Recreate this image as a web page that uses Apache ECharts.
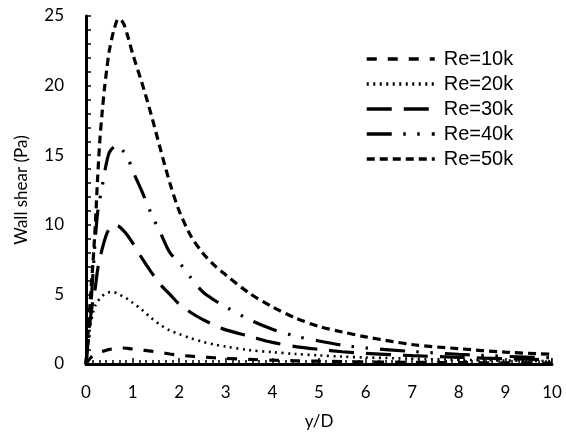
<!DOCTYPE html>
<html>
<head>
<meta charset="utf-8">
<script src="https://cdn.jsdelivr.net/npm/echarts@6/dist/echarts.min.js"></script>
<style>html,body{margin:0;padding:0;background:#fff;}#c{width:566px;height:441px;}</style>
</head>
<body>
<div id="c"></div>
<script>
const xs = [0,0.05,0.1,0.15,0.2,0.25,0.3,0.35,0.4,0.45,0.5,0.6,0.7,0.8,0.9,1.0,1.2,1.4,1.6,1.8,2.0,2.25,2.5,2.75,3,3.5,4,4.5,5,5.5,6,7,8,9,10];
const re10k = [0,0.25,0.45,0.6,0.7,0.78,0.85,0.9,0.95,1.0,1.05,1.1,1.15,1.15,1.12,1.08,1.0,0.92,0.82,0.72,0.63,0.56,0.5,0.45,0.4,0.33,0.27,0.23,0.2,0.17,0.15,0.12,0.1,0.08,0.07];
const re20k = [0,1.8,2.9,3.7,4.2,4.5,4.7,4.9,5.0,5.1,5.15,5.15,5.0,4.85,4.65,4.4,3.9,3.3,2.8,2.4,2.15,1.85,1.6,1.4,1.25,1.0,0.85,0.72,0.62,0.53,0.47,0.38,0.3,0.25,0.2];
const re30k = [0,1.8,3.4,4.6,5.5,6.8,7.6,8.3,8.9,9.4,9.7,10.0,9.9,9.6,9.2,8.7,7.6,6.6,5.7,5.0,4.3,3.7,3.2,2.8,2.45,2.0,1.55,1.25,1.05,0.88,0.76,0.6,0.48,0.38,0.3];
const re40k = [0,2,4,6.5,9,10.9,11.9,12.8,13.8,14.6,15.2,15.6,15.7,15.3,14.8,13.9,12.4,10.8,9.4,8.0,7.3,6.2,5.2,4.6,4.1,3.2,2.5,2.0,1.65,1.35,1.15,0.9,0.7,0.55,0.45];
const re50k = [0,2.5,5,7.3,10,13.4,16.2,18.2,19.9,21.3,22.5,24.0,24.8,24.5,23.5,22.3,20.2,17.9,15.4,13.0,11.0,9.2,8.0,7.1,6.4,5.1,4.1,3.3,2.7,2.3,1.95,1.4,1.1,0.85,0.7];
const seriesNames = ['Re=10k','Re=20k','Re=30k','Re=40k','Re=50k'];
const xTicks = [0,1,2,3,4,5,6,7,8,9,10];
const yTicks = [0,5,10,15,20,25];

const allData = [re10k, re20k, re30k, re40k, re50k];
const dashes = [[10,11],[2,4.5],[25,12],[25,11.5,2.5,11.5,2.5,12],[8,5]];
const widths = [3.2,2.6,3.2,3.2,3.2];

const chart = echarts.init(document.getElementById('c'), null, {renderer:'canvas'});
const font = 'Lato, "Open Sans", sans-serif';
chart.setOption({
  animation: false,
  backgroundColor: '#fff',
  grid: {left: 86, right: 14, top: 16, bottom: 77},
  legend: {
    orient: 'vertical',
    left: 360, top: 44,
    itemWidth: 68, itemHeight: 10, itemGap: 5,
    data: seriesNames,
    itemStyle: {opacity: 0},
    lineStyle: {width: 3.5},
    textStyle: {fontFamily: '"Liberation Sans", Arial, sans-serif', fontSize: 20, lineHeight: 20, color: '#000', padding: [0,0,0,4]}
  },
  xAxis: {
    type: 'value', min: xTicks[0], max: xTicks[xTicks.length-1], interval: 1,
    name: 'y/D', nameLocation: 'middle', nameGap: 49,
    nameTextStyle: {fontFamily: font, fontSize: 17, color: '#000'},
    axisLine: {show: true, onZero: false, lineStyle: {color: '#000', width: 3}},
    axisTick: {show: true, inside: true, length: 6, lineStyle: {color: '#000', width: 1.5}},
    minorTick: {show: true, splitNumber: 7, length: 4, lineStyle: {color: '#000', width: 1.5}},
    splitLine: {show: false},
    axisLabel: {fontFamily: font, fontSize: 17, color: '#000', margin: 20}
  },
  yAxis: {
    type: 'value', min: yTicks[0], max: yTicks[yTicks.length-1], interval: 5,
    name: 'Wall shear (Pa)', nameLocation: 'middle', nameGap: 56,
    nameTextStyle: {fontFamily: font, fontSize: 17, color: '#000'},
    axisLine: {show: true, onZero: false, lineStyle: {color: '#000', width: 3}},
    axisTick: {show: true, inside: true, length: 5, lineStyle: {color: '#000', width: 1.5}},
    minorTick: {show: true, splitNumber: 5, length: 5, lineStyle: {color: '#000', width: 1.5}},
    splitLine: {show: false},
    axisLabel: {fontFamily: font, fontSize: 17, color: '#000', margin: 22}
  },
  series: seriesNames.map((n, i) => ({
    name: n, type: 'line', smooth: 0.3, symbol: 'none',
    data: xs.map((x, j) => [x, allData[i][j]]),
    lineStyle: {color: '#000', width: widths[i], type: dashes[i]},
    itemStyle: {color: '#000'},
    z: 2
  }))
});
</script>
</body>
</html>
